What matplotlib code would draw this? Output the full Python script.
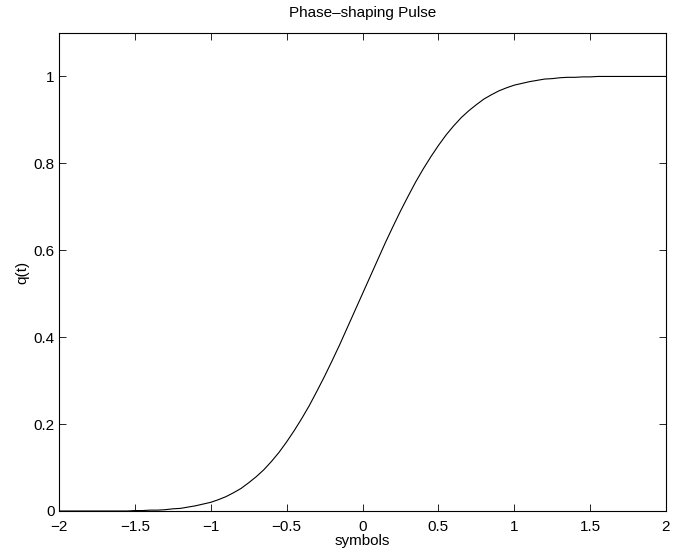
import matplotlib
matplotlib.use("Agg")
import matplotlib.pyplot as plt

plt.rcParams['font.family'] = ['Liberation Sans', 'DejaVu Sans']
plt.rcParams['font.size'] = 11

# time axis in symbol periods (0.05 steps) and the rising half of q(t)
t_pos = [0.00, 0.05, 0.10, 0.15, 0.20, 0.25, 0.30, 0.35, 0.40, 0.45,
         0.50, 0.55, 0.60, 0.65, 0.70, 0.75, 0.80, 0.85, 0.90, 0.95,
         1.00, 1.05, 1.10, 1.15, 1.20, 1.25, 1.30, 1.35, 1.40, 1.45,
         1.50, 1.55, 1.60, 1.65, 1.70, 1.75, 1.80, 1.85, 1.90, 1.95, 2.00]
q_pos = [0.500, 0.539, 0.578, 0.617, 0.654, 0.690, 0.724, 0.757, 0.787, 0.815,
         0.841, 0.865, 0.886, 0.905, 0.921, 0.935, 0.948, 0.958, 0.967, 0.974,
         0.980, 0.984, 0.988, 0.991, 0.994, 0.995, 0.997, 0.998, 0.998, 0.999,
         0.999, 1.000, 1.000, 1.000, 1.000, 1.000, 1.000, 1.000, 1.000, 1.000, 1.000]

# the pulse is odd-symmetric about (0, 0.5)
t_symbols = [-t for t in reversed(t_pos[1:])] + t_pos
q_values = [1.0 - q for q in reversed(q_pos[1:])] + q_pos

x_ticks = [-2, -1.5, -1, -0.5, 0, 0.5, 1, 1.5, 2]
x_tick_labels = ['\u22122', '\u22121.5', '\u22121', '\u22120.5', '0', '0.5', '1', '1.5', '2']
y_ticks = [0, 0.2, 0.4, 0.6, 0.8, 1]
y_tick_labels = ['0', '0.2', '0.4', '0.6', '0.8', '1']

fig = plt.figure(figsize=(6.81, 5.52), dpi=100)
ax = fig.add_axes([59 / 681, 1 - 511 / 552, 607 / 681, 478 / 552])

ax.plot(t_symbols, q_values, color='black', linewidth=0.8)

ax.set_xlim(-2, 2)
ax.set_ylim(0, 1.1)
ax.set_xticks(x_ticks)
ax.set_xticklabels(x_tick_labels)
ax.set_yticks(y_ticks)
ax.set_yticklabels(y_tick_labels)
ax.tick_params(direction='in', length=5, width=0.6, top=True, right=True,
               colors='black', labelsize=11)
ax.tick_params(axis='x', pad=6.5)
ax.tick_params(axis='y', pad=3)
for spine in ax.spines.values():
    spine.set_linewidth(0.8)
    spine.set_color('black')

ax.set_title('Phase\u2013shaping Pulse', fontsize=11, pad=11.5)
ax.set_xlabel('symbols', fontsize=11, labelpad=0)
ax.set_ylabel('q(t)', fontsize=11, labelpad=3)

fig.savefig('out.png', dpi=100)
